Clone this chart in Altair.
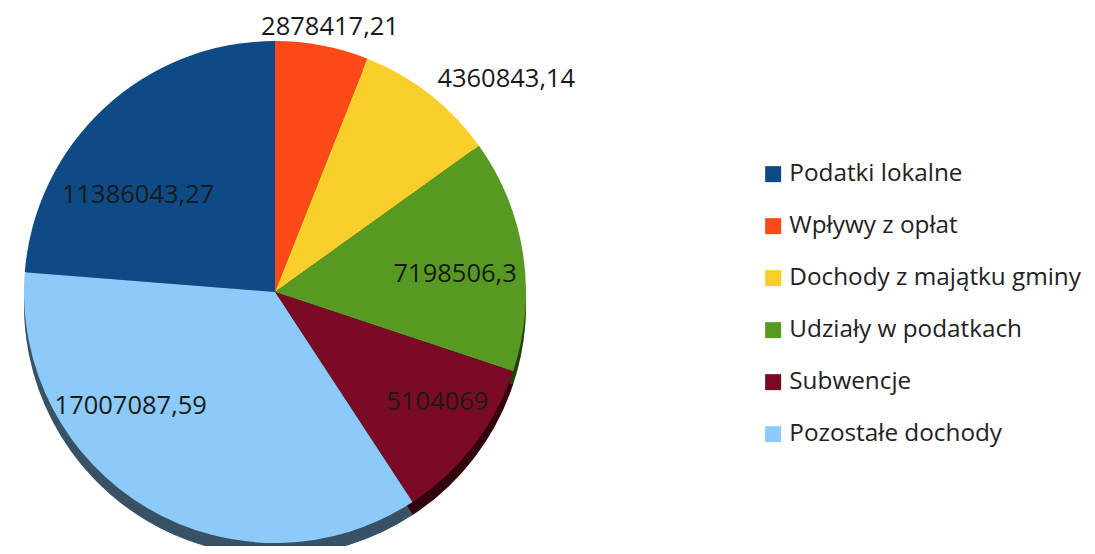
import altair as alt
import pandas as pd

# ---- data ----
names = ["Podatki lokalne", "Wpływy z opłat", "Dochody z majątku gminy",
         "Udziały w podatkach", "Subwencje", "Pozostałe dochody"]
values = [11386043.27, 2878417.21, 4360843.14, 7198506.3, 5104069, 17007087.59]
labels = ["11386043,27", "2878417,21", "4360843,14", "7198506,3", "5104069", "17007087,59"]
pie_order = [6, 1, 2, 3, 4, 5]  # clockwise from 12 o'clock

colors = ["#0d4a86", "#fb4a17", "#f8cf2a", "#579a22", "#7b0a25", "#8ccaf9"]

df = pd.DataFrame({"name": names, "value": values, "label": labels, "ord": pie_order})

CX, CY, R = 267, 284, 251
FONT = "Open Sans"

# label placement (radius px, angle offset deg) relative to slice mid-angle
lab_r = ("datum.name=='Podatki lokalne'?168:datum.name=='Udziały w podatkach'?181:"
         "datum.name=='Subwencje'?196:datum.name=='Pozostałe dochody'?184:"
         "datum.name=='Wpływy z opłat'?258:268")
lab_off = ("datum.name=='Podatki lokalne'?-11.8:datum.name=='Udziały w podatkach'?3.0:"
           "datum.name=='Subwencje'?-3.5:datum.name=='Pozostałe dochody'?21.0:"
           "datum.name=='Wpływy z opłat'?1.5:-0.7")

base = (
    alt.Chart(df)
    .transform_joinaggregate(total="sum(value)")
    .transform_window(cum="sum(value)", sort=[alt.SortField("ord")], frame=[None, 0])
    .transform_calculate(
        end="datum.cum / datum.total * 2 * PI",
        start="(datum.cum - datum.value) / datum.total * 2 * PI",
    )
    .transform_calculate(
        lt=f"(datum.start + datum.end) / 2 + ({lab_off}) * PI / 180",
        lr=lab_r,
    )
)

color = alt.Color(
    "name:N",
    scale=alt.Scale(domain=names, range=colors),
    legend=alt.Legend(
        title=None, orient="none", legendX=753, legendY=154,
        symbolType="square", symbolSize=256, symbolStrokeWidth=0,
        labelFont=FONT, labelFontSize=24.3, labelColor="#222222",
        labelOffset=4, rowPadding=27, labelLimit=400,
    ),
)

theta = alt.Theta("start:Q", scale=None)
theta2 = alt.Theta2("end:Q")

shadow = base.mark_arc(outerRadius=R).encode(
    theta=theta, theta2=theta2, color=color, x=alt.value(CX), y=alt.value(CY + 13)
)
shadow_dark = base.mark_arc(outerRadius=R, color="black", opacity=0.6).encode(
    theta=theta, theta2=theta2, x=alt.value(CX), y=alt.value(CY + 13)
)
pie = base.mark_arc(outerRadius=R).encode(
    theta=theta, theta2=theta2, color=color, x=alt.value(CX), y=alt.value(CY)
)

def text_layer(filter_expr, align, baseline):
    return (
        base.transform_filter(filter_expr)
        .mark_text(font=FONT, fontSize=25.5, color="#1a1a1a", align=align, baseline=baseline)
        .encode(
            theta=alt.Theta("lt:Q", scale=None),
            radius=alt.Radius("lr:Q", scale=None),
            x=alt.value(CX), y=alt.value(CY),
            text="label:N",
        )
    )

inside = text_layer(
    "datum.name!='Wpływy z opłat' && datum.name!='Dochody z majątku gminy'", "center", "middle"
)
out1 = text_layer("datum.name=='Wpływy z opłat'", "center", "bottom")
out2 = text_layer("datum.name=='Dochody z majątku gminy'", "left", "middle")

chart = (
    alt.layer(shadow, shadow_dark, pie, inside, out1, out2)
    .properties(width=1079, height=538, autosize=alt.AutoSizeParams(type="none"), padding=0)
    .configure_view(stroke=None)
)

chart.save("out.html", embed_options={"renderer": "svg", "actions": False})
